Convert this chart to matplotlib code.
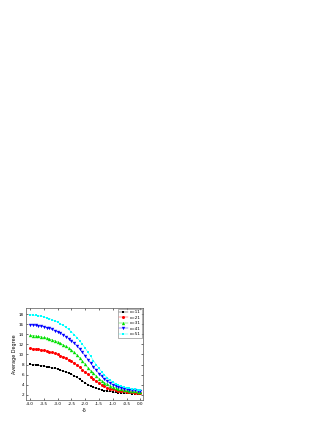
import numpy as np
import matplotlib
matplotlib.use('Agg')
import matplotlib.pyplot as plt

# x values (-delta)
x = np.round(np.arange(-4.0, 0.001, 0.1), 1)

c1 = [8.05, 7.98, 7.92, 7.85, 7.78, 7.70, 7.60, 7.50, 7.38, 7.25, 7.10, 6.93, 6.75, 6.55,
      6.33, 6.08, 5.80, 5.47, 5.12, 4.75, 4.38, 4.05, 3.75, 3.50, 3.30, 3.12, 2.98, 2.87,
      2.77, 2.68, 2.60, 2.53, 2.47, 2.42, 2.37, 2.33, 2.29, 2.26, 2.23, 2.21, 2.19]
c2 = [11.25, 11.18, 11.10, 11.02, 10.93, 10.83, 10.70, 10.56, 10.40, 10.22, 10.02, 9.80,
      9.55, 9.28, 8.98, 8.66, 8.30, 7.90, 7.47, 7.00, 6.52, 6.05, 5.60, 5.17, 4.75, 4.36,
      4.02, 3.72, 3.47, 3.26, 3.10, 2.96, 2.85, 2.76, 2.68, 2.61, 2.55, 2.50, 2.46, 2.42, 2.39]
c3 = [13.80, 13.74, 13.67, 13.59, 13.50, 13.38, 13.24, 13.08, 12.90, 12.70, 12.47, 12.22,
      11.93, 11.62, 11.27, 10.85, 10.40, 9.90, 9.35, 8.70, 8.05, 7.40, 6.82, 6.27, 5.75,
      5.25, 4.82, 4.44, 4.12, 3.85, 3.62, 3.43, 3.27, 3.13, 3.01, 2.92, 2.84, 2.77, 2.71,
      2.66, 2.62]
c4 = [15.90, 15.84, 15.77, 15.69, 15.59, 15.47, 15.32, 15.15, 14.95, 14.73, 14.48, 14.20,
      13.89, 13.54, 13.15, 12.72, 12.23, 11.68, 11.08, 10.42, 9.72, 9.00, 8.27, 7.55, 6.87,
      6.23, 5.65, 5.14, 4.70, 4.33, 4.02, 3.77, 3.56, 3.39, 3.25, 3.13, 3.03, 2.95, 2.88,
      2.82, 2.77]
c5 = [17.85, 17.80, 17.74, 17.66, 17.56, 17.44, 17.29, 17.11, 16.90, 16.66, 16.39, 16.09,
      15.75, 15.37, 14.95, 14.48, 13.95, 13.36, 12.71, 12.00, 11.25, 10.45, 9.63, 8.80, 8.00,
      7.25, 6.57, 5.95, 5.42, 4.96, 4.57, 4.25, 3.98, 3.76, 3.58, 3.43, 3.30, 3.19, 3.10,
      3.02, 2.96]

labels = ['c=11', 'c=21', 'c=31', 'c=41', 'c=51']
series = [c1, c2, c3, c4, c5]
colors = ['black', 'red', '#00e000', 'blue', 'cyan']
markers = ['s', 'o', '^', 'v', 's']
msizes = [1.9, 2.2, 2.4, 2.4, 1.9]

fig = plt.figure(figsize=(3.27, 4.23), dpi=100)
ax = fig.add_axes([0.0795, 0.0544, 0.358, 0.2175])

for y, lab, col, m, ms in zip(series, labels, colors, markers, msizes):
    ax.plot(x, y, linestyle='-', linewidth=0.3, color=col, marker=m,
            markersize=ms, markeredgewidth=0, label=lab)

ax.set_xlim(-4.15, 0.1)
ax.set_ylim(1.0, 19.2)
ax.set_xticks(np.arange(-4.0, 0.01, 0.5))
ax.set_yticks(np.arange(2, 19, 2))
ax.xaxis.set_major_formatter(matplotlib.ticker.FormatStrFormatter('%.1f'))
ax.tick_params(direction='in', labelsize=3, length=1.5, width=0.4, pad=1.5,
               top=True, right=True)
for s in ax.spines.values():
    s.set_linewidth(0.5)
    s.set_color('#555555')
ax.set_xlabel('-δ', fontsize=3.5, labelpad=1.5)
ax.set_ylabel('Average Degree', fontsize=3.5, labelpad=1.5)

leg = ax.legend(loc='upper right', fontsize=3, frameon=True, fancybox=False,
                handlelength=2.2, borderpad=0.3, labelspacing=0.35,
                handletextpad=0.4, borderaxespad=0.3)
leg.get_frame().set_linewidth(0.4)
leg.get_frame().set_edgecolor('#555555')

plt.savefig('out.png', dpi=100)
